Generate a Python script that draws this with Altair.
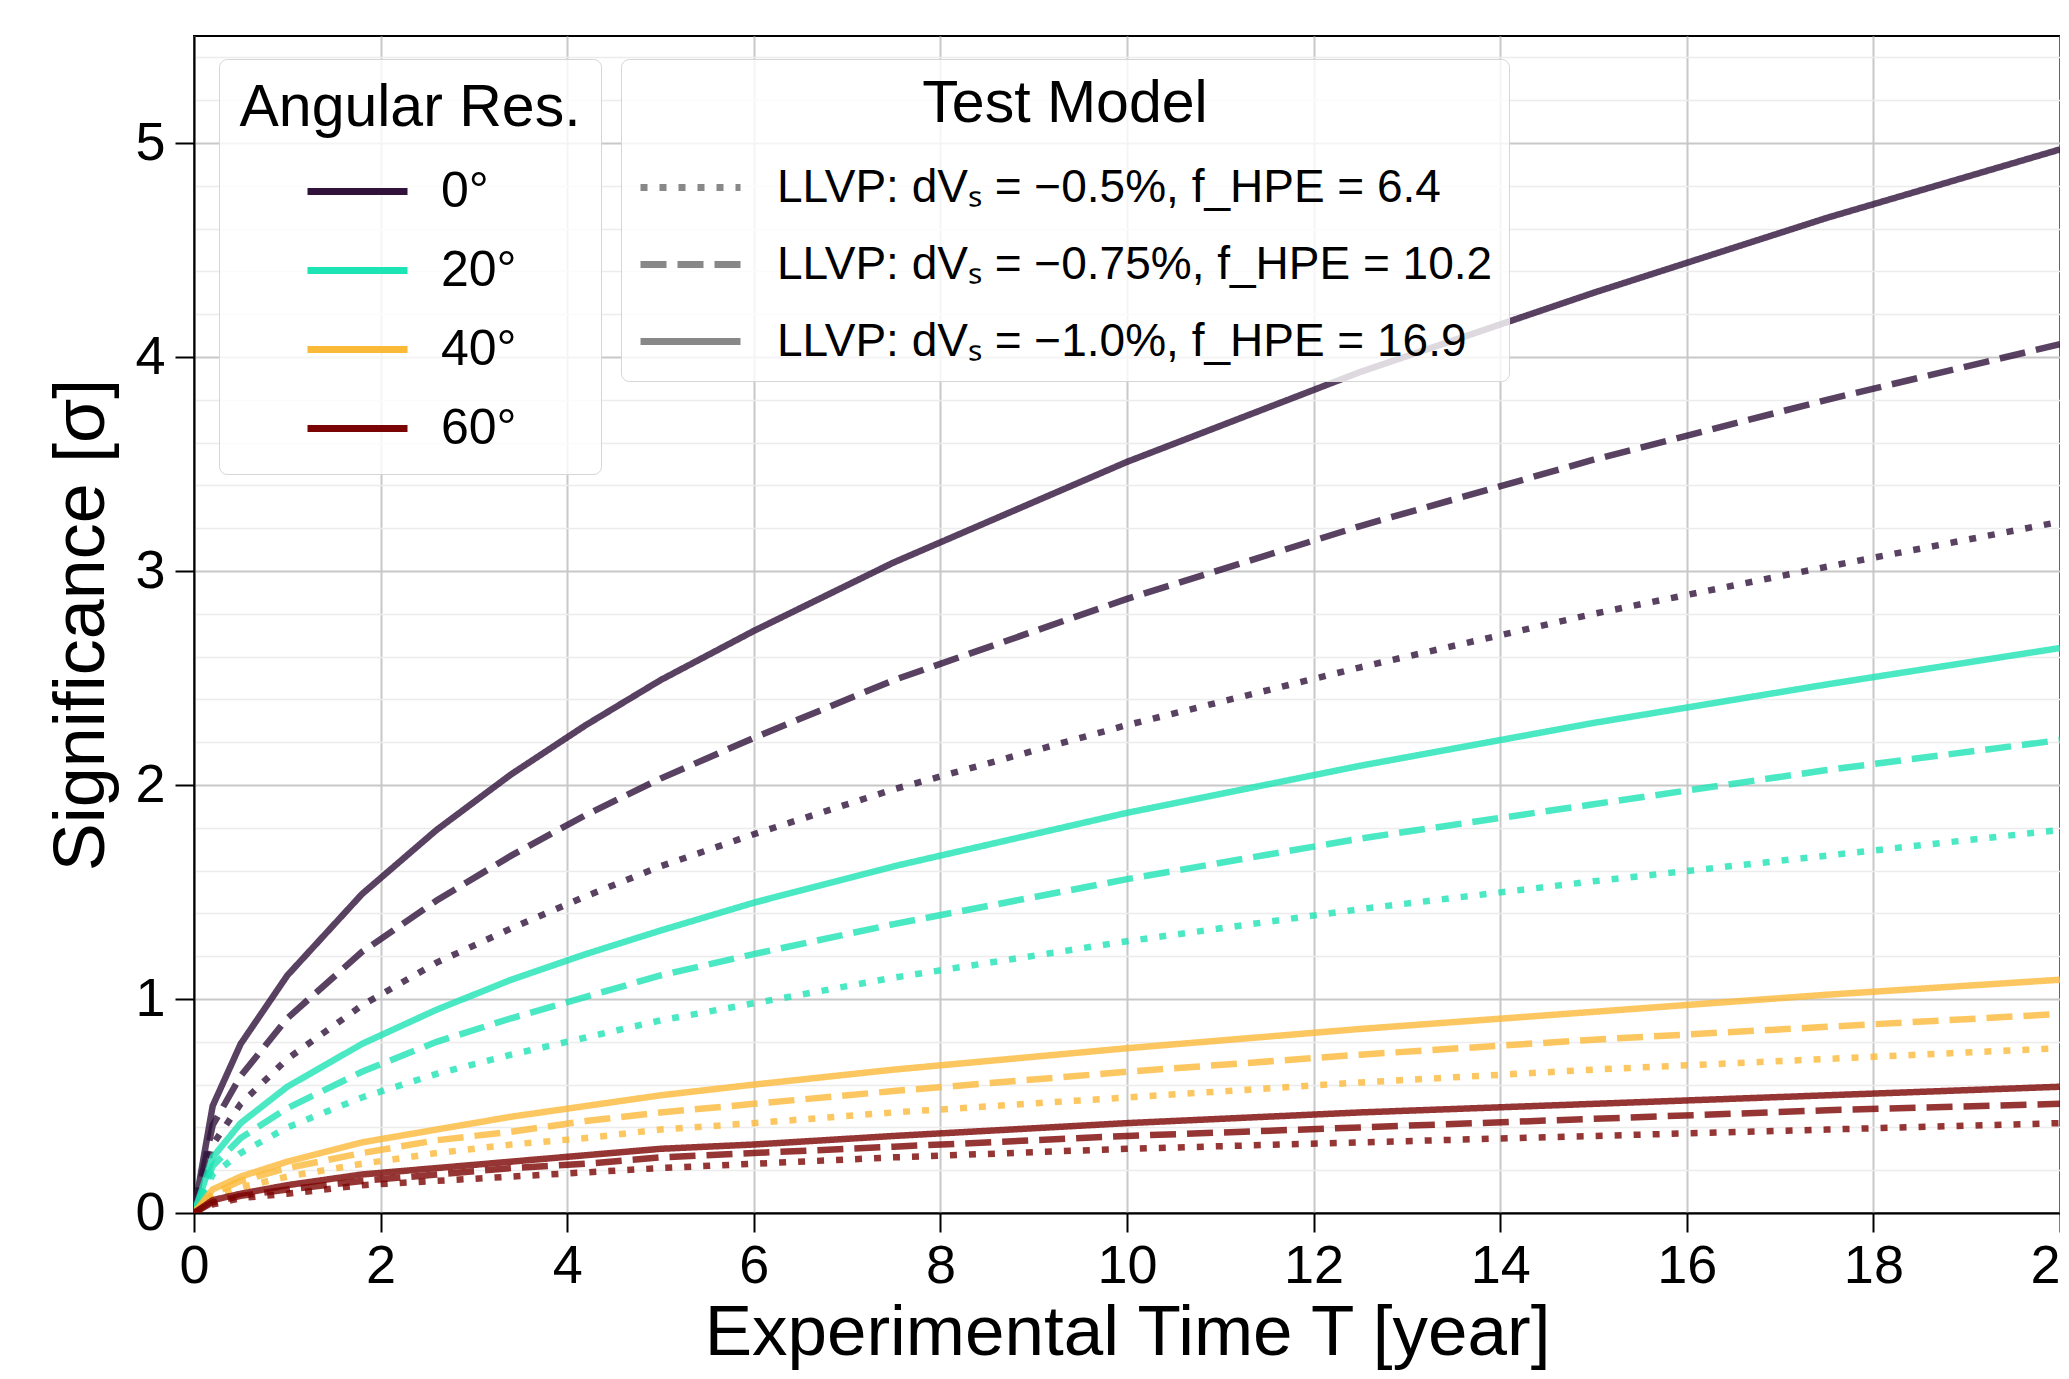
import altair as alt
import pandas as pd

# ---------------- data ----------------
T = [0, 0.2, 0.5, 1, 1.8, 2.6, 3.4, 4.2, 5, 6, 7.5, 10, 12.5, 15, 17.5, 20]

res_labels = ["0°", "20°", "40°", "60°"]
res_colors = ["#30123b", "#1de4b5", "#fbb938", "#7a0403"]

model_labels = [
    "LLVP: dVₛ = −0.5%, f_HPE = 6.4",
    "LLVP: dVₛ = −0.75%, f_HPE = 10.2",
    "LLVP: dVₛ = −1.0%, f_HPE = 16.9",
]
model_dashes = [[7, 12], [26, 11], [1, 0]]

# angular resolution 0 deg
sig_0_dot = [0, 0.32, 0.51, 0.72, 0.97, 1.17, 1.33, 1.48, 1.62, 1.77, 1.98, 2.28, 2.55, 2.80, 3.02, 3.23]
sig_0_dash = [0, 0.41, 0.64, 0.91, 1.22, 1.46, 1.67, 1.86, 2.03, 2.22, 2.49, 2.87, 3.21, 3.52, 3.80, 4.06]
sig_0_solid = [0, 0.50, 0.79, 1.11, 1.49, 1.79, 2.05, 2.28, 2.49, 2.72, 3.04, 3.51, 3.93, 4.30, 4.65, 4.97]
# 20 deg
sig_20_dot = [0, 0.18, 0.28, 0.40, 0.54, 0.65, 0.74, 0.82, 0.90, 0.98, 1.10, 1.27, 1.42, 1.55, 1.67, 1.79]
sig_20_dash = [0, 0.22, 0.35, 0.49, 0.66, 0.80, 0.91, 1.01, 1.11, 1.21, 1.35, 1.56, 1.75, 1.91, 2.07, 2.21]
sig_20_solid = [0, 0.26, 0.42, 0.59, 0.79, 0.95, 1.09, 1.21, 1.32, 1.45, 1.62, 1.87, 2.09, 2.29, 2.47, 2.64]
# 40 deg
sig_40_dot = [0, 0.08, 0.12, 0.17, 0.23, 0.28, 0.32, 0.35, 0.39, 0.42, 0.47, 0.54, 0.61, 0.67, 0.72, 0.77]
sig_40_dash = [0, 0.09, 0.15, 0.21, 0.28, 0.34, 0.38, 0.43, 0.47, 0.51, 0.57, 0.66, 0.74, 0.81, 0.87, 0.93]
sig_40_solid = [0, 0.11, 0.17, 0.24, 0.33, 0.39, 0.45, 0.50, 0.55, 0.60, 0.67, 0.77, 0.86, 0.94, 1.02, 1.09]
# 60 deg
sig_60_dot = [0, 0.04, 0.07, 0.09, 0.13, 0.15, 0.17, 0.19, 0.21, 0.23, 0.26, 0.30, 0.33, 0.36, 0.39, 0.42]
sig_60_dash = [0, 0.05, 0.08, 0.11, 0.15, 0.18, 0.21, 0.23, 0.26, 0.28, 0.31, 0.36, 0.40, 0.44, 0.48, 0.51]
sig_60_solid = [0, 0.06, 0.09, 0.13, 0.18, 0.21, 0.24, 0.27, 0.30, 0.32, 0.36, 0.42, 0.47, 0.51, 0.55, 0.59]

series = [
    (res_labels[0], model_labels[0], sig_0_dot),
    (res_labels[0], model_labels[1], sig_0_dash),
    (res_labels[0], model_labels[2], sig_0_solid),
    (res_labels[1], model_labels[0], sig_20_dot),
    (res_labels[1], model_labels[1], sig_20_dash),
    (res_labels[1], model_labels[2], sig_20_solid),
    (res_labels[2], model_labels[0], sig_40_dot),
    (res_labels[2], model_labels[1], sig_40_dash),
    (res_labels[2], model_labels[2], sig_40_solid),
    (res_labels[3], model_labels[0], sig_60_dot),
    (res_labels[3], model_labels[1], sig_60_dash),
    (res_labels[3], model_labels[2], sig_60_solid),
]

rows = []
for i, (res, model, vals) in enumerate(series):
    for t, v in zip(T, vals):
        rows.append({"T": t, "sig": v, "res": res, "model": model, "sid": i})
df = pd.DataFrame(rows)

x_ticks = [0, 2, 4, 6, 8, 10, 12, 14, 16, 18, 20]
y_ticks = [round(0.2 * k, 1) for k in range(0, 28)]

FONT = "Liberation Sans"
is_major = "datum.value % 1 === 0"

legend_common = dict(
    direction="vertical",
    orient="none",
    titleFontSize=59,
    titleFont=FONT,
    titleFontWeight="normal",
    titleColor="black",
    titleAnchor="middle",
    titleAlign="center",
    titleLimit=3000,
    labelFont=FONT,
    labelColor="black",
    labelLimit=3000,
    symbolType="stroke",
    symbolSize=10000,
    symbolStrokeWidth=7,
    symbolOpacity=1,
    fillColor="rgba(255,255,255,0.8)",
    strokeColor="#d6d6d6",
    cornerRadius=8,
    rowPadding=0,
    titlePadding=0,
)

chart = (
    alt.Chart(df)
    .mark_line(strokeWidth=6.5, opacity=0.8, clip=True)
    .encode(
        x=alt.X(
            "T:Q",
            scale=alt.Scale(domain=[0, 20], nice=False),
            axis=alt.Axis(
                values=x_ticks,
                title="Experimental Time T [year]",
                labelFlush=False,
                labelOverlap=False,
                labelPadding=7,
                titlePadding=5,
                titleFontSize=71,
            ),
        ),
        y=alt.Y(
            "sig:Q",
            scale=alt.Scale(domain=[0, 5.5], nice=False),
            axis=alt.Axis(
                values=y_ticks,
                title="Significance [σ]",
                labelExpr="datum.value % 1 === 0 ? format(datum.value, 'd') : ''",
                labelOverlap=False,
                labelPadding=10,
                titlePadding=16,
                gridColor={"condition": {"test": is_major, "value": "#c8c8c8"}, "value": "#ececec"},
                gridWidth={"condition": {"test": is_major, "value": 2}, "value": 1.5},
                tickOpacity={"condition": {"test": is_major, "value": 1}, "value": 0},
            ),
        ),
        color=alt.Color(
            "res:N",
            scale=alt.Scale(domain=res_labels, range=res_colors),
            legend=alt.Legend(
                title="Angular Res.",
                legendX=25,
                legendY=23,
                padding=20,
                labelOffset=30,
                labelFontSize=50,
                **legend_common,
            ),
        ),
        strokeDash=alt.StrokeDash(
            "model:N",
            scale=alt.Scale(domain=model_labels, range=model_dashes),
            legend=alt.Legend(
                title="Test Model",
                legendX=427,
                legendY=23,
                padding=16,
                labelOffset=33,
                labelFontSize=46,
                symbolStrokeColor="#888888",
                **legend_common,
            ),
        ),
        detail="sid:N",
    )
    .properties(
        width=1866,
        height=1177,
        autosize=alt.AutoSizeParams(type="none"),
        padding={"left": 186, "top": 28, "right": 0, "bottom": 158},
    )
    .configure_view(stroke="black", strokeWidth=2)
    .configure_axis(
        labelFont=FONT,
        titleFont=FONT,
        labelFontSize=54,
        titleFontSize=72,
        titleFontWeight="normal",
        labelColor="black",
        titleColor="black",
        tickColor="black",
        tickSize=19,
        tickWidth=2,
        domainColor="black",
        domainWidth=2,
        gridColor="#c8c8c8",
        gridWidth=2,
    )
)

chart.save("out.html", embed_options={"renderer": "svg", "actions": False})
